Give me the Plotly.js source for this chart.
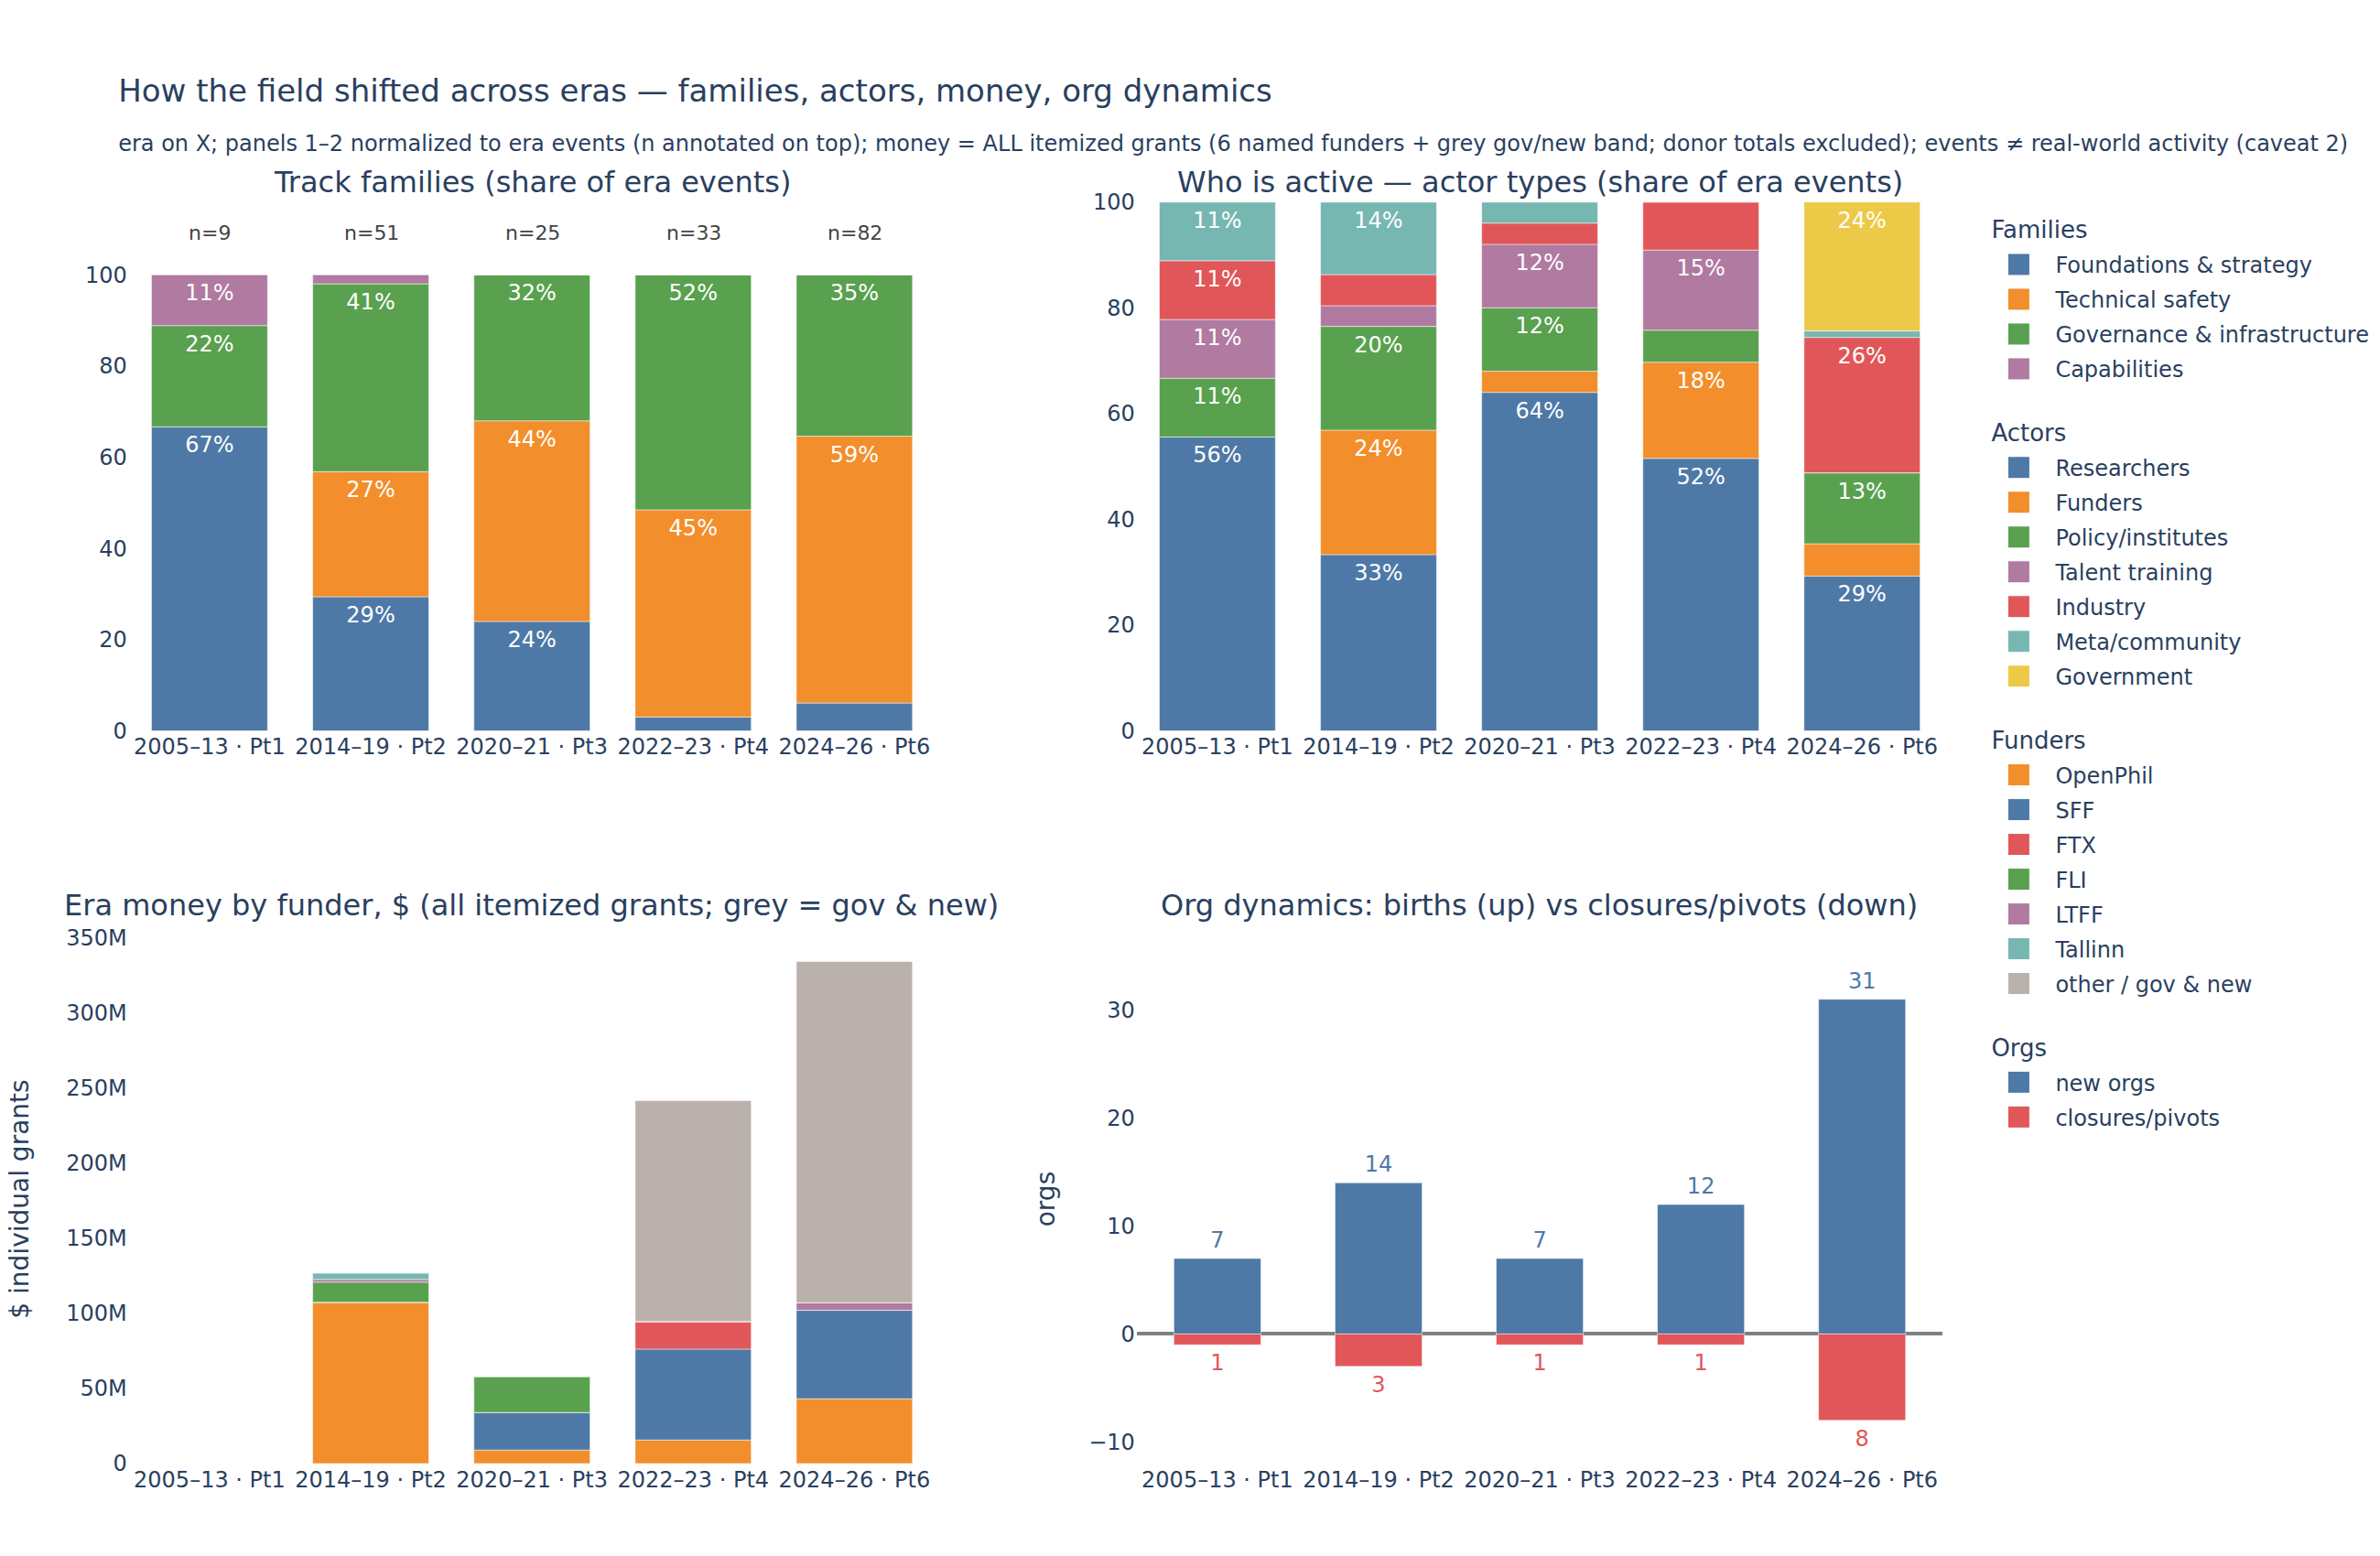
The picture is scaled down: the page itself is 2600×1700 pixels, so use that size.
<!DOCTYPE html>
<html>
<head>
<meta charset="utf-8">
<script src="https://cdn.plot.ly/plotly-3.0.1.min.js"></script>
<style>
  html, body { margin: 0; padding: 0; background: #ffffff; }
  #chart { width: 1300px; height: 850px; }
</style>
</head>
<body>
<div id="chart"></div>
<script>
// ---------- data ----------
var eras = ["2005–13 · Pt1", "2014–19 · Pt2", "2020–21 · Pt3", "2022–23 · Pt4", "2024–26 · Pt6"];
var eraN = [9, 51, 25, 33, 82];

// Panel 1: track families, % of era events
var famFoundations = [66.67, 29.41, 24.00, 3.03, 6.10];
var famTechnical   = [0, 27.45, 44.00, 45.45, 58.54];
var famGovernance  = [22.22, 41.18, 32.00, 51.52, 35.37];
var famCapabilities = [11.11, 1.96, 0, 0, 0];

// Panel 2: actor types, % of era events
var actResearchers = [55.56, 33.33, 64.00, 51.52, 29.27];
var actFunders     = [0, 23.53, 4.00, 18.18, 6.10];
var actPolicy      = [11.11, 19.61, 12.00, 6.06, 13.41];
var actTalent      = [11.11, 3.92, 12.00, 15.15, 0];
var actIndustry    = [11.11, 5.88, 4.00, 9.09, 25.61];
var actMeta        = [11.11, 13.73, 4.00, 0, 1.22];
var actGovernment  = [0, 0, 0, 0, 24.39];

// Panel 3: era money by funder, $
var monOpenPhil = [0, 107.3e6, 9.0e6, 15.7e6, 43.1e6];
var monSFF      = [0, 0, 25.0e6, 60.5e6, 58.9e6];
var monFTX      = [0, 0, 0, 18.3e6, 0];
var monFLI      = [0, 13.4e6, 24.0e6, 0, 0];
var monLTFF     = [0, 1.8e6, 0, 0, 5.0e6];
var monTallinn  = [0, 4.3e6, 0, 0, 0];
var monOther    = [0, 0, 0, 147.0e6, 227.0e6];

// Panel 4: org dynamics
var orgBirths   = [7, 14, 7, 12, 31];
var orgClosures = [1, 3, 1, 1, 8];

// ---------- styling ----------
var C = {
  blue: "#4e79a7", orange: "#f28e2b", red: "#e15759", teal: "#76b7b2",
  green: "#59a14f", yellow: "#edc948", purple: "#b07aa1", grey: "#bab0ac"
};
var lineW = {color: "white", width: 0.5};

function pctText(arr) {
  return arr.map(function (v) { return v >= 10 ? Math.round(v) + "%" : ""; });
}

function shareTrace(name, vals, color, xa, ya, group, gtitle) {
  var t = {
    type: "bar", name: name, x: eras, y: vals, xaxis: xa, yaxis: ya,
    width: 0.72,
    marker: {color: color, line: lineW},
    text: pctText(vals), textposition: "inside", insidetextanchor: "end",
    textfont: {color: "white", size: 12},
    legendgroup: group, hoverinfo: "name+y"
  };
  if (gtitle) t.legendgrouptitle = {text: gtitle};
  return t;
}
function moneyTrace(name, vals, color, gtitle) {
  var t = {
    type: "bar", name: name, x: eras, y: vals, xaxis: "x3", yaxis: "y3",
    width: 0.72,
    marker: {color: color, line: lineW},
    legendgroup: "fund"
  };
  if (gtitle) t.legendgrouptitle = {text: gtitle};
  return t;
}

var data = [
  shareTrace("Foundations & strategy", famFoundations, C.blue, "x", "y", "fam", "Families"),
  shareTrace("Technical safety", famTechnical, C.orange, "x", "y", "fam"),
  shareTrace("Governance & infrastructure", famGovernance, C.green, "x", "y", "fam"),
  shareTrace("Capabilities", famCapabilities, C.purple, "x", "y", "fam"),

  shareTrace("Researchers", actResearchers, C.blue, "x2", "y2", "act", "Actors"),
  shareTrace("Funders", actFunders, C.orange, "x2", "y2", "act"),
  shareTrace("Policy/institutes", actPolicy, C.green, "x2", "y2", "act"),
  shareTrace("Talent training", actTalent, C.purple, "x2", "y2", "act"),
  shareTrace("Industry", actIndustry, C.red, "x2", "y2", "act"),
  shareTrace("Meta/community", actMeta, C.teal, "x2", "y2", "act"),
  shareTrace("Government", actGovernment, C.yellow, "x2", "y2", "act"),

  moneyTrace("OpenPhil", monOpenPhil, C.orange, "Funders"),
  moneyTrace("SFF", monSFF, C.blue),
  moneyTrace("FTX", monFTX, C.red),
  moneyTrace("FLI", monFLI, C.green),
  moneyTrace("LTFF", monLTFF, C.purple),
  moneyTrace("Tallinn", monTallinn, C.teal),
  moneyTrace("other / gov & new", monOther, C.grey),

  {
    type: "bar", name: "new orgs", x: eras, y: orgBirths, xaxis: "x4", yaxis: "y4",
    width: 0.54, marker: {color: C.blue, line: lineW},
    text: orgBirths.map(String), textposition: "outside", cliponaxis: false,
    textfont: {color: C.blue, size: 12},
    legendgroup: "org", legendgrouptitle: {text: "Orgs"}
  },
  {
    type: "bar", name: "closures/pivots", x: eras, y: orgClosures.map(function (v) { return -v; }),
    xaxis: "x4", yaxis: "y4",
    width: 0.54, marker: {color: C.red, line: lineW},
    text: orgClosures.map(String), textposition: "outside", cliponaxis: false,
    textfont: {color: C.red, size: 12},
    legendgroup: "org"
  }
];

// ---------- layout ----------
var xd1 = [0.0545, 0.3953], xd2 = [0.4806, 0.8213];
var yd1 = [0.5303, 0.8702], yd2 = [0.0594, 0.3994];

function xax(domain, anchor) {
  return {domain: domain, anchor: anchor, type: "category", tickangle: 0,
          showgrid: false, zeroline: false, showline: false, ticks: ""};
}

var annotations = [
  {text: "Track families (share of era events)", x: (xd1[0] + xd1[1]) / 2, y: yd1[1], yshift: -0.5,
   xref: "paper", yref: "paper", xanchor: "center", yanchor: "bottom", showarrow: false, font: {size: 16}},
  {text: "Who is active — actor types (share of era events)", x: (xd2[0] + xd2[1]) / 2, y: yd1[1], yshift: -0.5,
   xref: "paper", yref: "paper", xanchor: "center", yanchor: "bottom", showarrow: false, font: {size: 16}},
  {text: "Era money by funder, $ (all itemized grants; grey = gov & new)", x: (xd1[0] + xd1[1]) / 2, y: yd2[1], yshift: 5,
   xref: "paper", yref: "paper", xanchor: "center", yanchor: "bottom", showarrow: false, font: {size: 16}},
  {text: "Org dynamics: births (up) vs closures/pivots (down)", x: (xd2[0] + xd2[1]) / 2, y: yd2[1], yshift: 5,
   xref: "paper", yref: "paper", xanchor: "center", yanchor: "bottom", showarrow: false, font: {size: 16}}
];
eras.forEach(function (e, i) {
  annotations.push({text: "n=" + eraN[i], x: e, y: 109, xref: "x", yref: "y",
    showarrow: false, font: {size: 11, color: "#444"}});
});

var layout = {
  width: 1300, height: 850,
  margin: {l: 0, r: 0, t: 0, b: 0},
  paper_bgcolor: "white", plot_bgcolor: "white",
  font: {family: '"DejaVu Sans", Verdana, sans-serif', size: 12, color: "#2a3f5f"},
  title: {
    text: "How the field shifted across eras — families, actors, money, org dynamics",
    x: 0.05, xanchor: "left", xref: "paper", yref: "container", y: 0.942, yanchor: "middle",
    font: {size: 17, color: "#2a3f5f"},
    subtitle: {
      text: "era on X; panels 1–2 normalized to era events (n annotated on top); money = ALL itemized grants (6 named funders + grey gov/new band; donor totals excluded); events ≠ real-world activity (caveat 2)",
      font: {size: 12, color: "#2a3f5f"}
    }
  },
  barmode: "relative",
  showlegend: true,
  legend: {x: 0.838, xanchor: "left", y: 0.8705, yanchor: "top", bgcolor: "rgba(0,0,0,0)",
           font: {size: 12}, tracegroupgap: 15},
  xaxis: xax(xd1, "y"),
  yaxis: {domain: yd1, anchor: "x", range: [0, 116], tickvals: [0, 20, 40, 60, 80, 100],
          showgrid: false, zeroline: false},
  xaxis2: xax(xd2, "y2"),
  yaxis2: {domain: yd1, anchor: "x2", range: [0, 100], dtick: 20, showgrid: false, zeroline: false},
  xaxis3: xax(xd1, "y3"),
  yaxis3: {domain: yd2, anchor: "x3", range: [0, 352e6], dtick: 50e6, tickformat: "~s",
           showgrid: false, zeroline: false,
           title: {text: "$ individual grants", font: {size: 14}, standoff: 16}},
  xaxis4: xax(xd2, "y4"),
  yaxis4: {domain: yd2, anchor: "x4", range: [-12, 37], dtick: 10, showgrid: false,
           zeroline: true, zerolinecolor: "grey", zerolinewidth: 2,
           title: {text: "orgs", font: {size: 14}, standoff: 14}},
  annotations: annotations
};

var gd = document.getElementById("chart");
Plotly.newPlot(gd, data, layout, {displayModeBar: false}).then(function () {
  // scale the finished vector drawing 2x to fill the 2600x1700 window
  var svgs = gd.querySelectorAll("svg.main-svg");
  svgs.forEach(function (s) {
    s.setAttribute("viewBox", "0 0 1300 850");
    s.setAttribute("width", 2600);
    s.setAttribute("height", 1700);
    s.style.width = "2600px";
    s.style.height = "1700px";
  });
  var cont = gd.querySelector(".svg-container");
  if (cont) { cont.style.width = "2600px"; cont.style.height = "1700px"; }
  gd.style.width = "2600px"; gd.style.height = "1700px";
});
</script>
</body>
</html>
